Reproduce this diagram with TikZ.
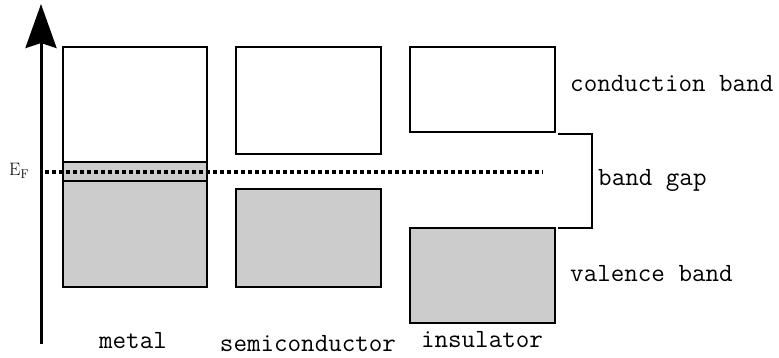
\documentclass[tikz,border=0pt]{standalone}
\usepackage{fontspec}
\usetikzlibrary{arrows.meta}
\definecolor{bandgray}{HTML}{CCCCCC}
\begin{document}
\begin{tikzpicture}[x=1pt,y=-1pt,
  band/.style={draw=black,line width=1.5pt,rectangle,inner sep=0pt,outer sep=0pt,anchor=north west},
  filled/.style={band,fill=bandgray},
  lbl/.style={font=\fontsize{26.3}{28}\selectfont\ttfamily,inner sep=0pt,anchor=base},
  lblw/.style={lbl,anchor=base west}]
\useasboundingbox (0,0) rectangle (779,358);
% axis
\coordinate (axb) at (41,344);
\coordinate (axt) at (41,4);
\draw[line width=3pt,-{Stealth[length=44pt,width=31pt,inset=5pt]}] (axb) -- (axt);
% metal
\node[band,minimum width=144pt,minimum height=115pt] (m-up) at (63,47) {};
\node[filled,minimum width=144pt,minimum height=19pt] (m-mid) at (63,162) {};
\node[filled,minimum width=144pt,minimum height=106pt] (m-low) at (63,181) {};
% semiconductor
\node[band,minimum width=145pt,minimum height=107pt] (s-up) at (236,47) {};
\node[filled,minimum width=145pt,minimum height=98pt] (s-low) at (236,189) {};
% insulator
\node[band,minimum width=145pt,minimum height=85pt] (i-up) at (410,47) {};
\node[filled,minimum width=145pt,minimum height=95pt] (i-low) at (410,228) {};
% Fermi level
\coordinate (ef-l) at (45,172);
\coordinate (ef-r) at (543,172);
\draw[line width=3.5pt,dash pattern=on 3.5pt off 3.5pt] (ef-l) -- (ef-r);
\node[inner sep=0pt,anchor=base west,font=\fontsize{18}{20}\selectfont] (ef) at (9,176) {$\mathrm{E}_{\mathrm{F}}$};
% bracket
\coordinate (br-t) at (558,134);
\coordinate (br-b) at (558,228);
\draw[line width=1.5pt] (br-t) -- (592,134) -- (592,228) -- (br-b);
% labels
\node[lblw] (cb) at (570,92) {conduction band};
\node[lblw] (bg) at (598,186) {band gap};
\node[lblw] (vb) at (570,281) {valence band};
\node[lbl] (lm) at (133,348) {metal};
\node[lbl] (ls) at (308,351) {semiconductor};
\node[lbl] (li) at (482,347) {insulator};
\end{tikzpicture}
\end{document}
